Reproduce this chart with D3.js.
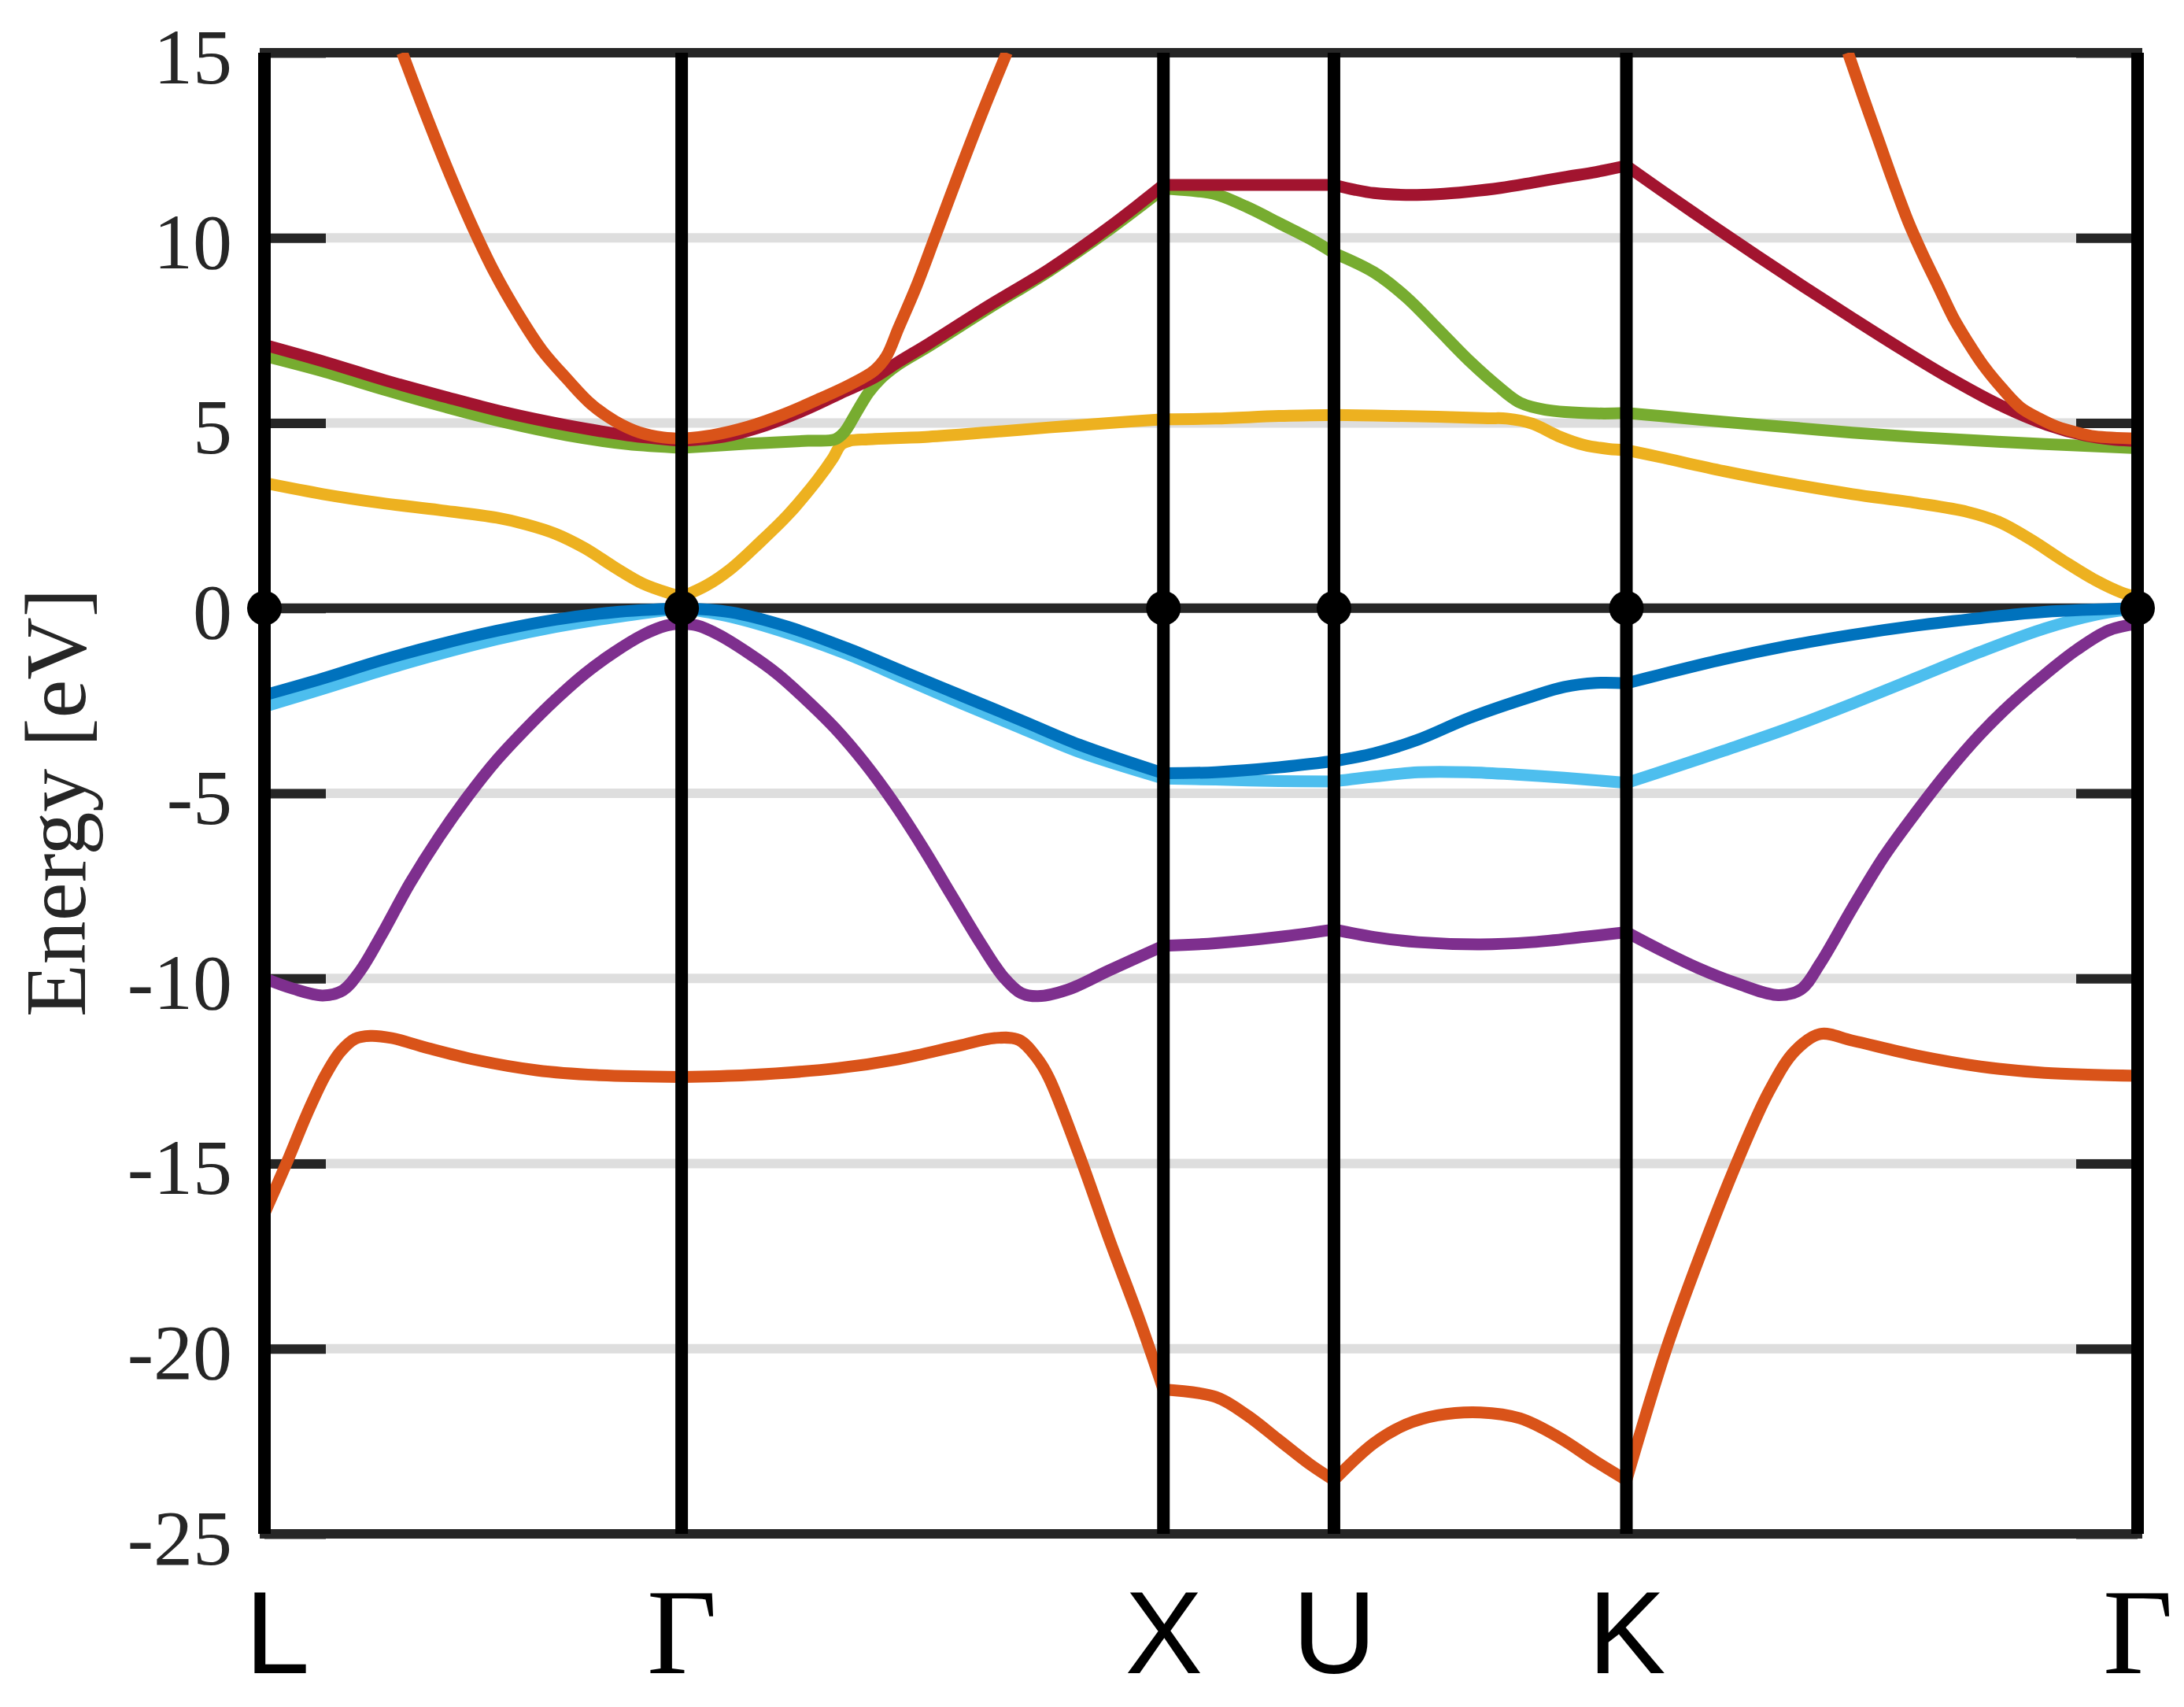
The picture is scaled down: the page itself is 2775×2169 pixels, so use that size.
<!DOCTYPE html>
<html><head><meta charset="utf-8">
<script src="https://cdn.jsdelivr.net/npm/d3@7"></script>
<style>html,body{margin:0;padding:0;background:#fff;} svg{display:block}</style>
</head><body>
<svg id="chart" width="2775" height="2169"></svg>
<script>
// ---------- data ----------
const kTicks = [0, 0.866, 1.866, 2.220, 2.827, 3.888];
const kLabels = ["L", "Γ", "X", "U", "K", "Γ"];
const yTicks = [-25, -20, -15, -10, -5, 0, 5, 10, 15];
const yLabel = "Energy [eV]";

const bandLowOrange = [
  [0,-16.35],[0.050,-14.86],[0.088,-13.67],[0.1255,-12.64],[0.157,-11.99],[0.188,-11.63],[0.22,-11.55],[0.264,-11.61],[0.339,-11.88],[0.439,-12.2],[0.565,-12.48],[0.69,-12.61],[0.866,-12.66],
  [1.0035,-12.61],[1.191,-12.42],[1.316,-12.18],[1.441,-11.82],[1.516,-11.61],[1.566,-11.66],[1.6035,-12.15],[1.6285,-12.69],[1.691,-14.76],[1.7535,-17.04],[1.816,-19.21],[1.866,-21.1],
  [1.974,-21.3],[2.04,-21.8],[2.106,-22.47],[2.171,-23.13],[2.22,-23.55],
  [2.303,-22.55],[2.369,-22.05],[2.435,-21.8],[2.524,-21.72],[2.606,-21.88],[2.685,-22.38],[2.764,-23.05],[2.827,-23.55],
  [2.910,-20.0],[2.983,-17.38],[3.056,-14.98],[3.123,-13.05],[3.176,-11.97],[3.229,-11.5],[3.296,-11.68],[3.429,-12.08],[3.562,-12.38],[3.695,-12.55],[3.888,-12.63]
];
const bandPurple = [
  [0,-10.0],[0.06,-10.28],[0.121,-10.46],[0.163,-10.32],[0.199,-9.79],[0.242,-8.85],[0.302,-7.43],[0.363,-6.17],[0.423,-5.07],[0.483,-4.09],[0.544,-3.24],[0.604,-2.47],[0.665,-1.77],[0.725,-1.2],[0.786,-0.72],[0.834,-0.47],[0.866,-0.42],
  [0.898,-0.47],[0.943,-0.72],[1.003,-1.2],[1.064,-1.77],[1.124,-2.47],[1.184,-3.24],[1.245,-4.17],[1.305,-5.23],[1.366,-6.45],[1.426,-7.75],[1.487,-9.06],[1.535,-9.98],[1.571,-10.4],[1.605,-10.48],[1.668,-10.3],[1.754,-9.78],[1.866,-9.12],
  [1.974,-9.05],[2.106,-8.88],[2.22,-8.68],
  [2.303,-8.88],[2.395,-9.02],[2.524,-9.08],[2.632,-9.02],[2.738,-8.88],[2.827,-8.75],
  [2.896,-9.22],[2.976,-9.72],[3.056,-10.13],[3.142,-10.45],[3.189,-10.3],[3.229,-9.6],[3.296,-8.1],[3.362,-6.7],[3.429,-5.5],[3.495,-4.4],[3.562,-3.4],[3.628,-2.55],[3.695,-1.8],[3.761,-1.13],[3.828,-0.6],[3.888,-0.42]
];
const bandLightBlue = [
  [0,-2.66],[0.121,-2.18],[0.242,-1.69],[0.363,-1.24],[0.483,-0.84],[0.604,-0.51],[0.725,-0.25],[0.866,0],
  [0.967,-0.23],[1.088,-0.68],[1.209,-1.24],[1.329,-1.91],[1.45,-2.59],[1.571,-3.24],[1.692,-3.89],[1.866,-4.6],
  [1.974,-4.63],[2.106,-4.67],[2.22,-4.68],
  [2.303,-4.55],[2.395,-4.43],[2.5,-4.43],[2.606,-4.5],[2.698,-4.58],[2.827,-4.72],
  [2.896,-4.43],[3.029,-3.85],[3.162,-3.25],[3.296,-2.58],[3.429,-1.88],[3.562,-1.18],[3.695,-0.55],[3.801,-0.18],[3.888,0]
];
const bandBlue = [
  [0,-2.35],[0.121,-1.9],[0.242,-1.41],[0.363,-0.98],[0.483,-0.61],[0.604,-0.31],[0.725,-0.11],[0.866,0],
  [0.967,-0.11],[1.088,-0.51],[1.209,-1.08],[1.329,-1.73],[1.45,-2.38],[1.571,-3.03],[1.692,-3.69],[1.866,-4.46],
  [1.974,-4.43],[2.106,-4.3],[2.22,-4.13],
  [2.303,-3.92],[2.395,-3.55],[2.5,-2.97],[2.632,-2.38],[2.698,-2.13],[2.764,-2.02],[2.827,-2.03],
  [2.896,-1.8],[3.029,-1.38],[3.162,-1.02],[3.296,-0.72],[3.429,-0.47],[3.562,-0.27],[3.695,-0.1],[3.888,0]
];
const bandYellow = [
  [0,3.38],[0.121,3.08],[0.242,2.84],[0.363,2.65],[0.483,2.44],[0.544,2.26],[0.604,2.01],[0.665,1.62],[0.725,1.12],[0.786,0.66],[0.846,0.38],[0.866,0.3],
  [0.9185,0.62],[0.967,1.05],[1.027,1.76],[1.088,2.54],[1.148,3.47],[1.18,4.05],[1.197,4.42],[1.215,4.52],[1.2535,4.56],[1.3785,4.63],[1.5035,4.75],[1.6285,4.88],[1.7535,5.0],[1.866,5.1],
  [1.974,5.12],[2.106,5.19],[2.22,5.22],
  [2.303,5.2],[2.435,5.17],[2.54,5.13],[2.579,5.12],[2.632,4.98],[2.685,4.65],[2.738,4.41],[2.79,4.3],[2.827,4.27],
  [2.896,4.08],[3.029,3.7],[3.162,3.37],[3.296,3.08],[3.429,2.84],[3.535,2.6],[3.602,2.32],[3.668,1.84],[3.735,1.27],[3.801,0.75],[3.855,0.42],[3.888,0.3]
];
const bandGreen = [
  [0,6.81],[0.1255,6.38],[0.251,5.89],[0.3765,5.43],[0.502,5.01],[0.6275,4.67],[0.753,4.43],[0.866,4.33],
  [1.0035,4.44],[1.1285,4.52],[1.1845,4.56],[1.2035,4.75],[1.2285,5.28],[1.2535,5.81],[1.2785,6.19],[1.316,6.58],[1.3785,7.07],[1.5035,8.1],[1.6285,9.1],[1.7535,10.22],[1.866,11.33],
  [1.921,11.28],[1.974,11.18],[2.04,10.83],[2.106,10.4],[2.171,9.97],[2.22,9.59],
  [2.303,9.07],[2.369,8.41],[2.435,7.55],[2.5,6.69],[2.566,5.93],[2.606,5.55],[2.658,5.36],[2.764,5.26],[2.827,5.27],
  [2.896,5.19],[3.029,5.03],[3.162,4.89],[3.296,4.74],[3.429,4.62],[3.562,4.52],[3.695,4.43],[3.888,4.32]
];
const bandDarkRed = [
  [0,7.11],[0.1255,6.65],[0.251,6.15],[0.3765,5.7],[0.502,5.28],[0.6275,4.94],[0.753,4.67],[0.866,4.52],
  [0.9535,4.63],[1.041,4.94],[1.1285,5.39],[1.2035,5.85],[1.266,6.23],[1.316,6.65],[1.3785,7.14],[1.5035,8.17],[1.6285,9.15],[1.7535,10.29],[1.866,11.43],
  [1.974,11.43],[2.106,11.43],[2.22,11.43],
  [2.263,11.3],[2.303,11.21],[2.369,11.16],[2.435,11.18],[2.5,11.25],[2.566,11.35],[2.632,11.49],[2.698,11.64],[2.764,11.78],[2.827,11.95],
  [2.9,11.28],[3.0,10.38],[3.1,9.5],[3.2,8.64],[3.3,7.8],[3.4,6.98],[3.5,6.2],[3.6,5.5],[3.7,4.95],[3.78,4.66],[3.84,4.55],[3.888,4.52]
];
const bandHighOrange = [
  [0.286,15.0],[0.326,13.63],[0.377,11.96],[0.427,10.44],[0.477,9.08],[0.527,7.94],[0.577,6.95],[0.628,6.19],[0.678,5.51],[0.728,5.05],[0.778,4.75],[0.828,4.61],[0.866,4.58],
  [0.9285,4.67],[1.0035,4.9],[1.0785,5.24],[1.1535,5.66],[1.216,6.04],[1.266,6.42],[1.291,6.8],[1.316,7.56],[1.3535,8.7],[1.391,9.99],[1.441,11.73],[1.491,13.41],[1.541,15.0],
  [3.287,15.0],[3.319,13.79],[3.35,12.65],[3.381,11.51],[3.412,10.44],[3.443,9.53],[3.474,8.7],[3.505,7.86],[3.536,7.18],[3.567,6.57],[3.605,5.96],[3.644,5.43],[3.683,5.13],[3.721,4.9],[3.76,4.75],[3.799,4.64],[3.888,4.58]
];

// drawing order (later on top) with colours
const bands = [
  {pts: bandLowOrange,  color: "#D95319"},
  {pts: bandPurple,     color: "#7E2F8E"},
  {pts: bandLightBlue,  color: "#4DBEEE"},
  {pts: bandBlue,       color: "#0072BD"},
  {pts: bandYellow,     color: "#EDB120"},
  {pts: bandGreen,      color: "#77AC30"},
  {pts: bandDarkRed,    color: "#A2142F"},
  {pts: bandHighOrange, color: "#D95319"}
];

// ---------- layout ----------
const X0 = 336, X1 = 2716, Y0 = 67, Y1 = 1949;
const svg = d3.select("#chart");
const x = d3.scaleLinear().domain([kTicks[0], kTicks[kTicks.length - 1]]).range([X0, X1]);
const y = d3.scaleLinear().domain([-25, 15]).range([Y1, Y0]);
const axisColor = "#262626";

svg.append("defs").append("clipPath").attr("id", "plotclip")
  .append("rect").attr("x", X0).attr("y", Y0).attr("width", X1 - X0).attr("height", Y1 - Y0);

// grid lines
svg.append("g").selectAll("line").data(yTicks).join("line")
  .attr("x1", X0).attr("x2", X1)
  .attr("y1", d => y(d)).attr("y2", d => y(d))
  .attr("stroke", "#dedede").attr("stroke-width", 12);

// left axis (ticks inward + labels)
const gL = svg.append("g").attr("transform", `translate(${X0},0)`)
  .call(d3.axisLeft(y).tickValues(yTicks).tickSize(-78).tickPadding(41).tickFormat(d => String(d)));
gL.select(".domain").remove();
gL.selectAll(".tick line").attr("stroke", axisColor).attr("stroke-width", 12);
gL.selectAll(".tick text").attr("fill", axisColor).attr("dy", 38)
  .style("font-family", "'Liberation Serif','Times New Roman',serif").style("font-size", "100px");

// right axis (ticks only)
const gR = svg.append("g").attr("transform", `translate(${X1},0)`)
  .call(d3.axisRight(y).tickValues(yTicks).tickSize(-78).tickFormat(""));
gR.select(".domain").remove();
gR.selectAll(".tick line").attr("stroke", axisColor).attr("stroke-width", 12);

// box
svg.append("rect").attr("x", X0).attr("y", Y0).attr("width", X1 - X0).attr("height", Y1 - Y0)
  .attr("fill", "none").attr("stroke", axisColor).attr("stroke-width", 12);

// Fermi level line
svg.append("line").attr("x1", X0).attr("x2", X1).attr("y1", y(0)).attr("y2", y(0))
  .attr("stroke", axisColor).attr("stroke-width", 12);

// bands, drawn segment by segment between high-symmetry points
const line = d3.line().x(d => x(d[0])).y(d => y(d[1])).curve(d3.curveCatmullRom.alpha(0.5));
const gB = svg.append("g").attr("clip-path", "url(#plotclip)");
bands.forEach(b => {
  for (let i = 0; i < kTicks.length - 1; i++) {
    const seg = b.pts.filter(p => p[0] >= kTicks[i] - 1e-6 && p[0] <= kTicks[i + 1] + 1e-6);
    if (seg.length < 2) continue;
    gB.append("path").attr("d", line(seg)).attr("fill", "none")
      .attr("stroke", b.color).attr("stroke-width", 15)
      .attr("stroke-linejoin", "round");
  }
});

// high-symmetry vertical lines
svg.append("g").selectAll("line").data(kTicks).join("line")
  .attr("x1", d => x(d)).attr("x2", d => x(d)).attr("y1", Y0).attr("y2", Y1)
  .attr("stroke", "#000").attr("stroke-width", 16);

// dots at E = 0
svg.append("g").selectAll("circle").data(kTicks).join("circle")
  .attr("cx", d => x(d)).attr("cy", y(0)).attr("r", 22).attr("fill", "#000");

// bottom labels
const gX = svg.append("g").attr("transform", `translate(0,${Y1})`)
  .call(d3.axisBottom(x).tickValues(kTicks).tickSize(0).tickFormat((d, i) => kLabels[i]));
gX.select(".domain").remove();
gX.selectAll(".tick text")
  .attr("y", 177).attr("dy", 0).attr("fill", "#000")
  .attr("dx", (d, i) => i === 0 ? 16 : 0)
  .style("font-family", (d, i) => kLabels[i] === "Γ" ? "'Liberation Serif','Times New Roman',serif" : "'Liberation Sans',Arial,sans-serif")
  .style("font-size", (d, i) => kLabels[i] === "Γ" ? "154px" : "148px");

// y-axis title
svg.append("text").attr("transform", "translate(108,1020) rotate(-90)")
  .attr("text-anchor", "middle").attr("fill", axisColor)
  .style("font-family", "'Liberation Serif','Times New Roman',serif").style("font-size", "110px")
  .text(yLabel);
</script>
</body></html>
